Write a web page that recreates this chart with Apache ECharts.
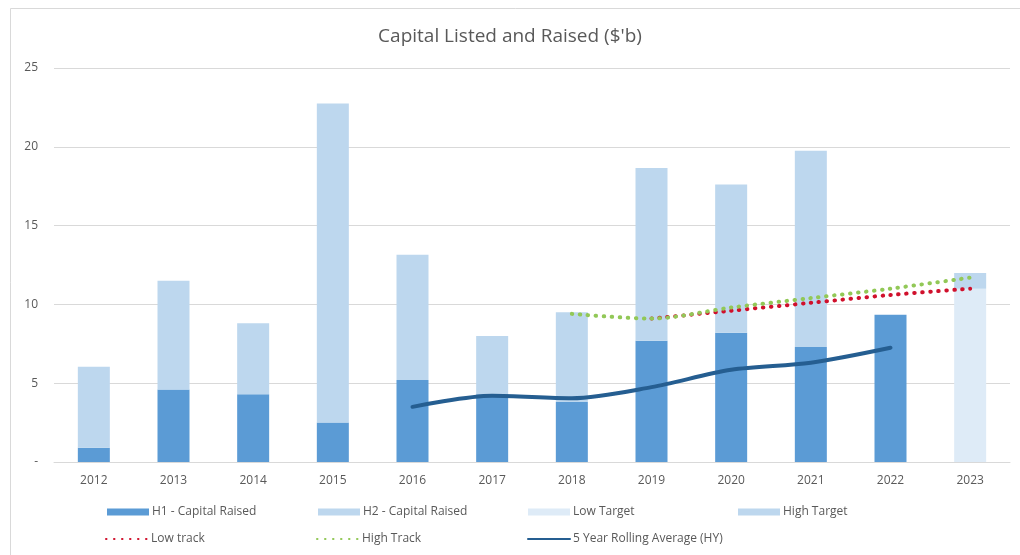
<!DOCTYPE html>
<html>
<head>
<meta charset="utf-8">
<title>Capital Listed and Raised</title>
<script src="https://cdn.jsdelivr.net/npm/echarts@6/dist/echarts.min.js"></script>
<style>
  html, body { margin: 0; padding: 0; background: #ffffff; }
  #chart { width: 1020px; height: 555px; }
</style>
</head>
<body>
<div id="chart"></div>
<script>
// Years on the category axis
const years = ['2012', '2013', '2014', '2015', '2016', '2017', '2018', '2019', '2020', '2021', '2022', '2023'];

// Capital raised by half-year ($b)
const h1Raised = [0.9, 4.6, 4.3, 2.5, 5.2, 4.3, 3.8, 7.7, 8.2, 7.3, 9.35, null];
const h2Raised = [5.15, 6.9, 4.5, 20.25, 7.95, 3.7, 5.7, 10.95, 9.4, 12.45, null, null];

// 2023 targets: low target, plus the extra amount up to the high target
const lowTarget = [null, null, null, null, null, null, null, null, null, null, null, 11.0];
const highTargetExtra = [null, null, null, null, null, null, null, null, null, null, null, 1.0];

// Tracking lines toward the targets
const lowTrack = [null, null, null, null, null, null, null, 9.1, 9.6, 10.1, 10.6, 11.0];
const highTrack = [null, null, null, null, null, null, 9.4, 9.1, 9.8, 10.4, 11.0, 11.7];

// Five-year rolling average of half-year capital raised
const rollingAvg = [null, null, null, null, 3.5, 4.2, 4.05, 4.75, 5.85, 6.3, 7.25, null];

// Value-axis ticks
const yTicks = [0, 5, 10, 15, 20, 25];

const textGrey = '#595959';
const gridGrey = '#D9D9D9';
const font = 'Open Sans';

const chart = echarts.init(document.getElementById('chart'), null, { renderer: 'canvas' });

function legendAt(name, left, top, isLine) {
  const lg = {
    data: [name],
    left: left,
    top: top,
    itemWidth: 42,
    itemHeight: 7,
    itemGap: 0,
    padding: 0,
    textStyle: { color: textGrey, fontSize: 12, fontFamily: font, padding: [0, 0, 0, -2] },
    selectedMode: false
  };
  if (isLine) {
    lg.itemStyle = { opacity: 0 };
  } else {
    lg.icon = 'rect';
  }
  return lg;
}

const dots = { type: [0.5, 7.5], cap: 'round', width: 4 };

chart.setOption({
  animation: false,
  backgroundColor: '#ffffff',
  title: {
    text: "Capital Listed and Raised ($'b)",
    left: 'center',
    top: 22,
    textStyle: { color: textGrey, fontSize: 19, fontWeight: 'normal', fontFamily: font }
  },
  graphic: [{
    type: 'rect',
    silent: true,
    shape: { x: 10.5, y: 8.5, width: 1100, height: 700 },
    style: { fill: 'none', stroke: gridGrey, lineWidth: 1 }
  }],
  legend: [
    legendAt('H1 - Capital Raised', 107, 506, false),
    legendAt('H2 - Capital Raised', 318, 506, false),
    legendAt('Low Target', 528, 506, false),
    legendAt('High Target', 738, 506, false),
    legendAt('Low track', 105, 533, true),
    legendAt('High Track', 316, 533, true),
    legendAt('5 Year Rolling Average (HY)', 527, 533, true)
  ],
  grid: { left: 54, right: 10, top: 68, bottom: 93, containLabel: false },
  xAxis: {
    type: 'category',
    data: years,
    axisLine: { show: true, lineStyle: { color: gridGrey, width: 1 } },
    axisTick: { show: false },
    axisLabel: { color: textGrey, fontSize: 12, fontFamily: font, margin: 13 }
  },
  yAxis: {
    type: 'value',
    min: yTicks[0],
    max: yTicks[yTicks.length - 1],
    interval: yTicks[1] - yTicks[0],
    axisLine: { show: false },
    axisTick: { show: false },
    splitLine: { lineStyle: { color: gridGrey, width: 1 } },
    axisLabel: {
      color: textGrey,
      fontSize: 12,
      fontFamily: font,
      margin: 16,
      formatter: v => (v === 0 ? '-' : String(v))
    }
  },
  series: [
    {
      name: 'H1 - Capital Raised', type: 'bar', stack: 'capital', data: h1Raised,
      barWidth: 32, itemStyle: { color: '#5B9BD5' }
    },
    {
      name: 'H2 - Capital Raised', type: 'bar', stack: 'capital', data: h2Raised,
      barWidth: 32, itemStyle: { color: '#BDD7EE' }
    },
    {
      name: 'Low Target', type: 'bar', stack: 'capital', data: lowTarget,
      barWidth: 32, itemStyle: { color: '#DEEBF7' }
    },
    {
      name: 'High Target', type: 'bar', stack: 'capital', data: highTargetExtra,
      barWidth: 32, itemStyle: { color: '#BDD7EE' }
    },
    {
      name: 'Low track', type: 'line', data: lowTrack, smooth: 0.3, symbol: 'none',
      lineStyle: Object.assign({ color: '#D0102C' }, dots), itemStyle: { color: '#D0102C' }
    },
    {
      name: 'High Track', type: 'line', data: highTrack, smooth: 0.3, symbol: 'none',
      lineStyle: Object.assign({ color: '#92C857' }, dots), itemStyle: { color: '#92C857' }
    },
    {
      name: '5 Year Rolling Average (HY)', type: 'line', data: rollingAvg, smooth: 0.3, symbol: 'none',
      lineStyle: { color: '#255E91', width: 4, cap: 'round' }, itemStyle: { color: '#255E91' }
    }
  ]
});
</script>
</body>
</html>
